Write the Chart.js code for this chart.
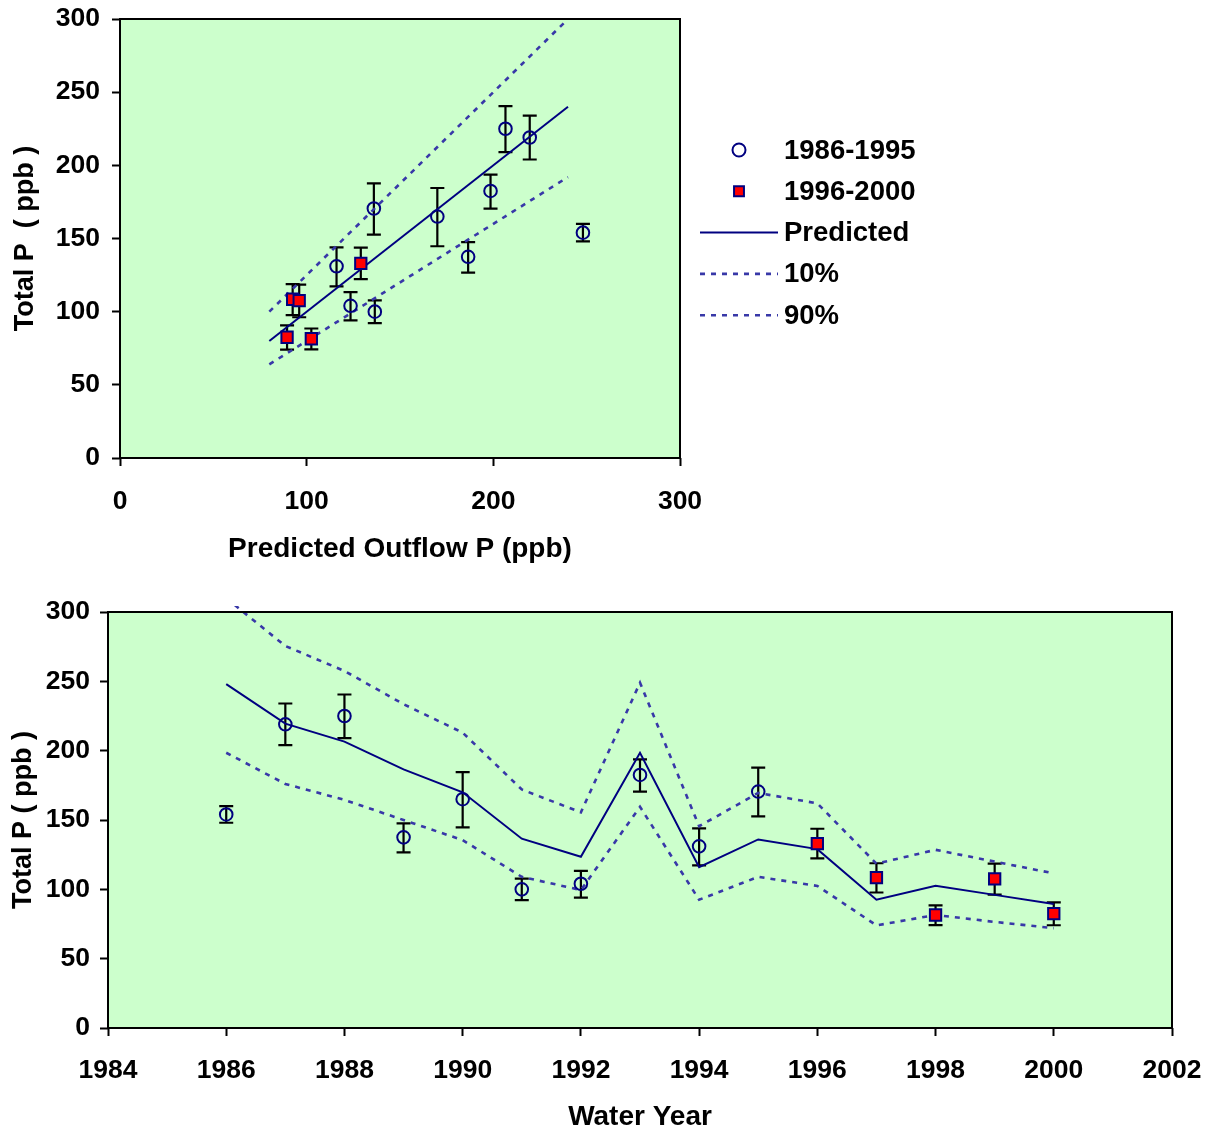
<!DOCTYPE html>
<html><head><meta charset="utf-8">
<script src="https://cdn.jsdelivr.net/npm/chart.js@4.4.1/dist/chart.umd.min.js"></script>
<style>
html,body{margin:0;padding:0;background:#fff;}
#wrap{position:relative;width:1207px;height:1134px;overflow:hidden;}
canvas{position:absolute;left:0;}
#c1{top:0;} #c2{top:580px;}
</style></head><body>
<div id="wrap"><canvas id="c1" width="1207" height="580"></canvas><canvas id="c2" width="1207" height="554"></canvas></div>
<script>
// ---- data ----
const years     = [1986, 1987, 1988, 1989, 1990, 1991, 1992, 1993, 1994, 1995, 1996, 1997, 1998, 1999, 2000];
const observed  = [154, 219, 225, 137.5, 165, 100, 104, 182.5, 131, 170.5, 133, 108.5, 81.5, 107.5, 82.5];
const errHigh   = [160, 234, 240.5, 147.5, 184.5, 107.7, 113.3, 193.7, 144, 187.7, 143.7, 118.8, 88.5, 118.5, 90.6];
const errLow    = [148, 204, 209, 126.7, 144.7, 92.2, 94, 170.4, 117.3, 152.6, 122.3, 97.7, 74.2, 96.2, 74.1];
const predicted = [248, 219.5, 206.5, 186.5, 170, 136.5, 123.5, 198.5, 116, 136, 129, 92.5, 102.5, 96, 89.5];
const pct10     = [198.5, 176, 164.5, 150, 135.5, 109, 99.5, 159.5, 92.5, 109, 102.5, 74, 81.5, 76.5, 72];
const pct90     = [310, 275.5, 257.5, 233.5, 213, 172, 155.5, 249, 145.5, 169.5, 162, 118.5, 128.5, 120, 111.5];
const seriesLabels = ['1986-1995', '1996-2000', 'Predicted', '10%', '90%'];
const splitYear = 1996;
// fit lines of the top (observed vs predicted) panel
const fitX    = [80, 240];
const fitPred = [80, 240];
const fit10   = [64, 192];
const fit90   = [100, 300];
// axis ranges / tick steps
const yMin = 0, yMax = 300, yStep = 50;
const xTopMin = 0, xTopMax = 300, xTopStep = 100;
const yearMin = 1984, yearMax = 2002, yearStep = 2;

// ---- styles ----
const NAVY = '#000080';
const DASH = '#3838a8';
const BG = '#ccffcc';
const FAMILY = "'Liberation Sans', Arial, Helvetica, sans-serif";
Chart.defaults.font = {family: FAMILY, size: 27, weight: 'bold', lineHeight: 1.2};
Chart.defaults.color = '#000';
const tickFont = {family: FAMILY, size: 26.5, weight: 'bold', lineHeight: 1.2};
const xTitleFont = {family: FAMILY, size: 28, weight: 'bold', lineHeight: 1.2};

const idxA = years.map((y, i) => i).filter(i => years[i] < splitYear);
const idxB = years.map((y, i) => i).filter(i => years[i] >= splitYear);

const circleStyle = {pointStyle: 'circle', pointRadius: 6.3, pointBorderWidth: 2, pointBorderColor: NAVY, pointBackgroundColor: 'rgba(0,0,0,0)', showLine: false, legendRadius: 6.5};
const squareStyle = {pointStyle: 'rect', pointRadius: 8, pointBorderWidth: 2, pointBorderColor: NAVY, pointBackgroundColor: '#ff0000', showLine: false, legendRadius: 7};
const predStyle = {showLine: true, borderColor: NAVY, borderWidth: 2, pointRadius: 0, fill: false, clip: {left: 0, top: 6, right: 0, bottom: 0}};
const dashStyle = {showLine: true, borderColor: DASH, borderWidth: 2.6, borderDash: [5, 6], pointRadius: 0, fill: false, clip: {left: 0, top: 6, right: 0, bottom: 0}};

const plotAreaPlugin = {
  id: 'plotArea',
  beforeDraw(chart) {
    const {left, top, width, height} = chart.chartArea;
    const ctx = chart.ctx;
    ctx.save(); ctx.fillStyle = BG; ctx.fillRect(left, top, width, height); ctx.restore();
  },
  afterDraw(chart) {
    const {left, top, width, height} = chart.chartArea;
    const ctx = chart.ctx;
    ctx.save(); ctx.strokeStyle = '#000'; ctx.lineWidth = 2; ctx.strokeRect(left, top, width, height); ctx.restore();
  }
};

const errorBarPlugin = {
  id: 'errorBars',
  beforeDatasetsDraw(chart) {
    const ctx = chart.ctx, ys = chart.scales.y, cap = 7;
    ctx.save(); ctx.strokeStyle = '#000'; ctx.lineWidth = 2.2;
    chart.data.datasets.forEach((ds, di) => {
      if (!ds.errHi) return;
      const meta = chart.getDatasetMeta(di);
      meta.data.forEach((pt, j) => {
        const x = pt.x, yh = ys.getPixelForValue(ds.errHi[j]), yl = ys.getPixelForValue(ds.errLo[j]);
        ctx.beginPath();
        ctx.moveTo(x, yh); ctx.lineTo(x, yl);
        ctx.moveTo(x - cap, yh); ctx.lineTo(x + cap, yh);
        ctx.moveTo(x - cap, yl); ctx.lineTo(x + cap, yl);
        ctx.stroke();
      });
    });
    ctx.restore();
  }
};

const sideLegendPlugin = {
  id: 'sideLegend',
  afterDraw(chart, args, opts) {
    if (!opts.display) return;
    const ctx = chart.ctx;
    ctx.save();
    ctx.font = "bold 27.5px " + FAMILY;
    ctx.textBaseline = 'middle'; ctx.textAlign = 'left';
    chart.data.datasets.forEach((ds, i) => {
      const y = opts.y + i * opts.row;
      if (ds.showLine) {
        ctx.strokeStyle = ds.borderColor; ctx.lineWidth = ds.borderWidth;
        ctx.setLineDash(ds.borderDash || []);
        ctx.beginPath(); ctx.moveTo(opts.lineX0, y); ctx.lineTo(opts.lineX1, y); ctx.stroke();
        ctx.setLineDash([]);
      } else {
        ctx.strokeStyle = ds.pointBorderColor; ctx.lineWidth = ds.pointBorderWidth; ctx.fillStyle = ds.pointBackgroundColor;
        ctx.beginPath();
        if (ds.pointStyle === 'rect') { const s = ds.legendRadius * Math.SQRT1_2; ctx.rect(opts.markerX - s, y - s, 2 * s, 2 * s); }
        else ctx.arc(opts.markerX, y, ds.legendRadius, 0, Math.PI * 2);
        ctx.fill(); ctx.stroke();
      }
      ctx.fillStyle = '#000';
      ctx.fillText(ds.label, opts.textX, y + 1);
    });
    ctx.restore();
  }
};

function tickGrid() {
  return {display: true, drawOnChartArea: false, drawTicks: true, tickLength: 8, tickColor: '#000', tickWidth: 2};
}
function fixSize(prop, val) {
  return s => { s[prop] = val; s.paddingTop = 0; s.paddingBottom = 0; s.paddingLeft = 0; s.paddingRight = 0; };
}
function pts(xs, ys, idx) { return idx.map(i => ({x: xs[i], y: ys[i]})); }

// ---- top chart: observed vs predicted ----
new Chart(document.getElementById('c1'), {
  type: 'scatter',
  data: {
    datasets: [
      Object.assign({label: seriesLabels[0], data: pts(predicted, observed, idxA), errHi: idxA.map(i => errHigh[i]), errLo: idxA.map(i => errLow[i])}, circleStyle),
      Object.assign({label: seriesLabels[1], data: pts(predicted, observed, idxB), errHi: idxB.map(i => errHigh[i]), errLo: idxB.map(i => errLow[i])}, squareStyle),
      Object.assign({label: seriesLabels[2], data: fitX.map((x, i) => ({x, y: fitPred[i]}))}, predStyle),
      Object.assign({label: seriesLabels[3], data: fitX.map((x, i) => ({x, y: fit10[i]}))}, dashStyle),
      Object.assign({label: seriesLabels[4], data: fitX.map((x, i) => ({x, y: fit90[i]}))}, dashStyle)
    ]
  },
  options: {
    responsive: false, animation: false, devicePixelRatio: 1,
    layout: {autoPadding: false, padding: {left: 0, top: 19, right: 527, bottom: 0}},
    plugins: {legend: {display: false}, tooltip: {enabled: false},
      sideLegend: {display: true, y: 150, row: 41.3, markerX: 739, lineX0: 700, lineX1: 778, textX: 784}},
    scales: {
      x: {type: 'linear', min: xTopMin, max: xTopMax, ticks: {stepSize: xTopStep, padding: 20, font: tickFont, callback: v => String(v)},
          grid: tickGrid(), border: {display: false},
          title: {display: true, text: 'Predicted Outflow P (ppb)', font: xTitleFont, padding: {top: 0, bottom: 14}},
          afterFit: fixSize('height', 122)},
      y: {type: 'linear', min: yMin, max: yMax, ticks: {stepSize: yStep, padding: 12, font: tickFont, callback: v => String(v)},
          grid: tickGrid(), border: {display: false},
          title: {display: true, text: 'Total P  ( ppb )', padding: {top: 9, bottom: 0}},
          afterFit: fixSize('width', 120)}
    }
  },
  plugins: [plotAreaPlugin, errorBarPlugin, sideLegendPlugin]
});

// ---- bottom chart: time series ----
const allIdx = years.map((y, i) => i);
new Chart(document.getElementById('c2'), {
  type: 'scatter',
  data: {
    datasets: [
      Object.assign({label: seriesLabels[0], data: pts(years, observed, idxA), errHi: idxA.map(i => errHigh[i]), errLo: idxA.map(i => errLow[i])}, circleStyle),
      Object.assign({label: seriesLabels[1], data: pts(years, observed, idxB), errHi: idxB.map(i => errHigh[i]), errLo: idxB.map(i => errLow[i])}, squareStyle),
      Object.assign({label: seriesLabels[2], data: pts(years, predicted, allIdx)}, predStyle),
      Object.assign({label: seriesLabels[3], data: pts(years, pct10, allIdx)}, dashStyle),
      Object.assign({label: seriesLabels[4], data: pts(years, pct90, allIdx)}, dashStyle)
    ]
  },
  options: {
    responsive: false, animation: false, devicePixelRatio: 1,
    layout: {autoPadding: false, padding: {left: 0, top: 32, right: 35, bottom: 0}},
    plugins: {legend: {display: false}, tooltip: {enabled: false}, sideLegend: {display: false}},
    scales: {
      x: {type: 'linear', min: yearMin, max: yearMax, ticks: {stepSize: yearStep, padding: 19, font: tickFont, callback: v => String(v)},
          grid: tickGrid(), border: {display: false},
          title: {display: true, text: 'Water Year', font: xTitleFont, padding: {top: 0, bottom: 0}},
          afterFit: fixSize('height', 106)},
      y: {type: 'linear', min: yMin, max: yMax, ticks: {stepSize: yStep, padding: 10, font: tickFont, callback: v => String(v)},
          grid: tickGrid(), border: {display: false},
          title: {display: true, text: 'Total P ( ppb )', padding: {top: 7, bottom: 0}},
          afterFit: fixSize('width', 108)}
    }
  },
  plugins: [plotAreaPlugin, errorBarPlugin, sideLegendPlugin]
});
</script>
</body></html>
